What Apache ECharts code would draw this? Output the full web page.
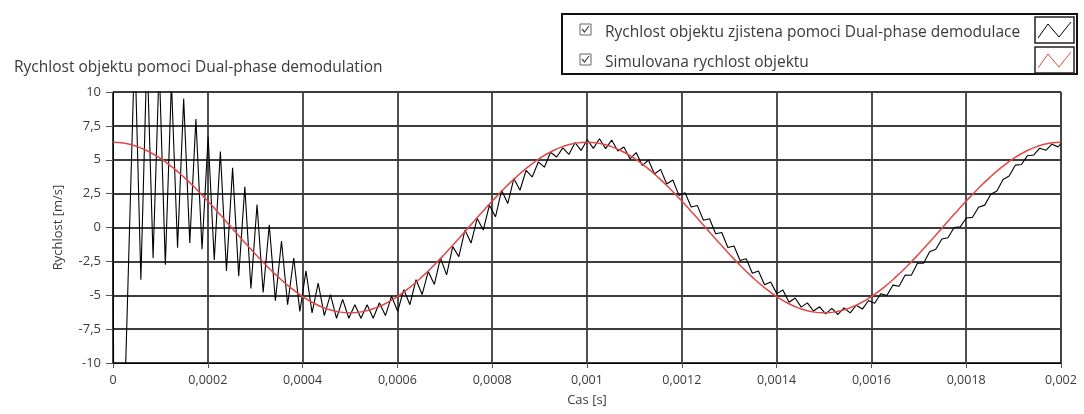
<!DOCTYPE html>
<html>
<head>
<meta charset="utf-8">
<script src="https://cdn.jsdelivr.net/npm/echarts@6/dist/echarts.min.js"></script>
<style>
html,body{margin:0;padding:0;background:#fff;}
#chart{width:1084px;height:414px;}
</style>
</head>
<body>
<div id="chart"></div>
<script>
// ---- data ----
const xTickLabels = ['0','0,0002','0,0004','0,0006','0,0008','0,001','0,0012','0,0014','0,0016','0,0018','0,002'];
const yTickLabels = ['-10','-7,5','-5','-2,5','0','2,5','5','7,5','10'];
const seriesNames = ['Rychlost objektu zjistena pomoci Dual-phase demodulace','Simulovana rychlost objektu'];

// simulated speed, sampled every 25 us from t = 0
const redStep = 0.000025;
const redValues = [6.30,6.22,5.99,5.61,5.10,4.45,3.70,2.86,1.95,0.99,0.00,-0.99,-1.95,-2.86,-3.70,-4.45,-5.10,-5.61,-5.99,-6.22,-6.30,
  -6.22,-5.99,-5.61,-5.10,-4.45,-3.70,-2.86,-1.95,-0.99,0.00,0.99,1.95,2.86,3.70,4.45,5.10,5.61,5.99,6.22,6.30,
  6.22,5.99,5.61,5.10,4.45,3.70,2.86,1.95,0.99,0.00,-0.99,-1.95,-2.86,-3.70,-4.45,-5.10,-5.61,-5.99,-6.22,-6.30,
  -6.22,-5.99,-5.61,-5.10,-4.45,-3.70,-2.86,-1.95,-0.99,0.00,0.99,1.95,2.86,3.70,4.45,5.10,5.61,5.99,6.22,6.30];

// demodulated speed: start-up transient points [t, v]
const blackLead = [[0, 0], [0.000002, -16], [0.000022, -16]];
// then alternating ripple peaks / troughs, every half ripple period
const rippleT0 = 0.0000459;
const rippleStep = 0.0000129;
const blackRipple = [
  13.5,-3.85,13.0,-2.25,12.0,-2.75,10.7,-1.5,9.5,-1.15,
  8.0,-1.6,6.7,-2.4,5.6,-3.2,4.4,-3.6,3.0,-4.5,
  1.7,-4.8,0.2,-5.4,-1.0,-5.7,-2.25,-6.2,-3.2,-6.3,
  -4.1,-6.5,-4.95,-6.7,-5.3,-6.7,-5.7,-6.7,-5.7,-6.7,
  -5.55,-6.5,-5.07,-6.18,-4.58,-5.7,-3.85,-4.95,-3.24,-4.2,
  -2.25,-3.5,-1.41,-2.15,-0.19,-1.15,0.67,-0.19,1.65,0.79,
  2.75,1.77,3.61,2.75,4.22,3.73,4.84,4.45,5.55,5.2,
  5.88,5.39,6.26,5.69,6.48,5.84,6.55,5.82,6.45,5.64,
  5.94,5.06,5.53,4.57,4.98,3.95,4.29,3.21,3.50,2.37,
  2.57,1.51,1.63,0.54,0.64,-0.46,-0.37,-1.47,-1.36,-2.44,
  -2.31,-3.37,-3.21,-4.22,-4.02,-4.88,-4.62,-5.52,-5.20,-5.88,
  -5.56,-6.16,-5.85,-6.37,-5.97,-6.42,-5.94,-6.30,-5.74,-6.02,
  -5.39,-5.59,-4.89,-5.02,-4.25,-4.33,-3.50,-3.52,-2.64,-2.63,
  -1.79,-1.61,-0.85,-0.75,0.0,0.05,0.70,0.75,1.50,1.65,
  2.45,2.70,3.55,3.80,4.60,4.65,5.30,5.35,5.85,5.70,
  6.15,5.95];
const blackEnd = [[0.002, 6.2]];

// ---- build ----
const redData = redValues.map((v, i) => [i * redStep, v]);
const blackData = blackLead.concat(blackRipple.map((v, i) => [rippleT0 + i * rippleStep, v]), blackEnd);

const FONT = 'Open Sans';
const TXT = '#3a3a3a';
const RED = '#e04848';
const chart = echarts.init(document.getElementById('chart'), null, {renderer: 'canvas'});
chart.setOption({
  animation: false,
  backgroundColor: '#fff',
  title: {
    text: 'Rychlost objektu pomoci Dual-phase demodulation',
    left: 9, top: 55,
    textStyle: {fontFamily: FONT, fontSize: 15.5, fontWeight: 'normal', color: TXT}
  },
  legend: {
    orient: 'vertical', left: 579, top: 18, itemGap: 11,
    itemWidth: 12, itemHeight: 12, icon: 'rect', selectedMode: false,
    itemStyle: {color: 'rgba(0,0,0,0)', borderWidth: 0},
    lineStyle: {width: 0, opacity: 0},
    textStyle: {fontFamily: FONT, fontSize: 15.5, lineHeight: 19, color: TXT, padding: [0, 0, 0, 4]},
    data: seriesNames
  },
  graphic: [
    {type: 'rect', z: -1, shape: {x: 562, y: 14, width: 515, height: 60}, style: {fill: '#fff', stroke: '#111', lineWidth: 2}},
    {type: 'rect', z: 10, shape: {x: 580, y: 24, width: 11, height: 11}, style: {fill: '#fff', stroke: '#666', lineWidth: 1}},
    {type: 'rect', z: 10, shape: {x: 580, y: 54, width: 11, height: 11}, style: {fill: '#fff', stroke: '#666', lineWidth: 1}},
    {type: 'polyline', z: 11, shape: {points: [[582, 29], [584.5, 32], [589, 26]]}, style: {stroke: '#444', lineWidth: 1.2, fill: null}},
    {type: 'polyline', z: 11, shape: {points: [[582, 59], [584.5, 62], [589, 56]]}, style: {stroke: '#444', lineWidth: 1.2, fill: null}},
    {type: 'rect', z: 10, shape: {x: 1035, y: 17, width: 39, height: 26}, style: {fill: '#fff', stroke: '#222', lineWidth: 1.5}},
    {type: 'rect', z: 10, shape: {x: 1035, y: 47, width: 39, height: 26}, style: {fill: '#fff', stroke: '#222', lineWidth: 1.5}},
    {type: 'polyline', z: 11, shape: {points: [[1038, 38], [1048, 24], [1059, 37], [1071, 22]]}, style: {stroke: '#000', lineWidth: 1, fill: null}},
    {type: 'polyline', z: 11, shape: {points: [[1038, 68], [1048, 54], [1059, 67], [1071, 52]]}, style: {stroke: RED, lineWidth: 1, fill: null}}
  ],
  grid: {left: 113, right: 23, top: 92, bottom: 51, show: true, borderColor: '#000', borderWidth: 1, backgroundColor: '#fff'},
  xAxis: {
    type: 'value', min: 0, max: 0.002, interval: 0.0002,
    name: 'Cas [s]', nameLocation: 'middle', nameGap: 31,
    nameTextStyle: {fontFamily: FONT, fontSize: 13, color: TXT},
    axisLine: {show: true, onZero: false, lineStyle: {color: '#000', width: 1}},
    axisTick: {show: true, inside: false, length: 5, lineStyle: {color: '#555'}},
    axisLabel: {margin: 11, fontFamily: FONT, fontSize: 12.5, color: TXT, formatter: v => xTickLabels[Math.round(v / 0.0002)]},
    splitLine: {show: true, lineStyle: {color: '#3c3c3c', width: 1.8}}
  },
  yAxis: {
    type: 'value', min: -10, max: 10, interval: 2.5,
    name: 'Rychlost [m/s]', nameLocation: 'middle', nameGap: 48, nameRotate: 90,
    nameTextStyle: {fontFamily: FONT, fontSize: 13, color: TXT},
    axisLine: {show: true, lineStyle: {color: '#000', width: 1}},
    axisTick: {show: true, inside: false, length: 7, lineStyle: {color: '#555'}},
    axisLabel: {margin: 12, fontFamily: FONT, fontSize: 13, color: TXT, formatter: v => yTickLabels[Math.round((v + 10) / 2.5)]},
    splitLine: {show: true, lineStyle: {color: '#3c3c3c', width: 1.8}}
  },
  series: [
    {name: seriesNames[0], type: 'line', data: blackData, showSymbol: false, symbol: 'none', clip: true,
     lineStyle: {color: '#000', width: 1.1}, itemStyle: {color: '#000'}, z: 3},
    {name: seriesNames[1], type: 'line', data: redData, showSymbol: false, symbol: 'none', smooth: true, clip: true,
     lineStyle: {color: RED, width: 1.5}, itemStyle: {color: RED}, z: 4}
  ]
});
</script>
</body>
</html>
